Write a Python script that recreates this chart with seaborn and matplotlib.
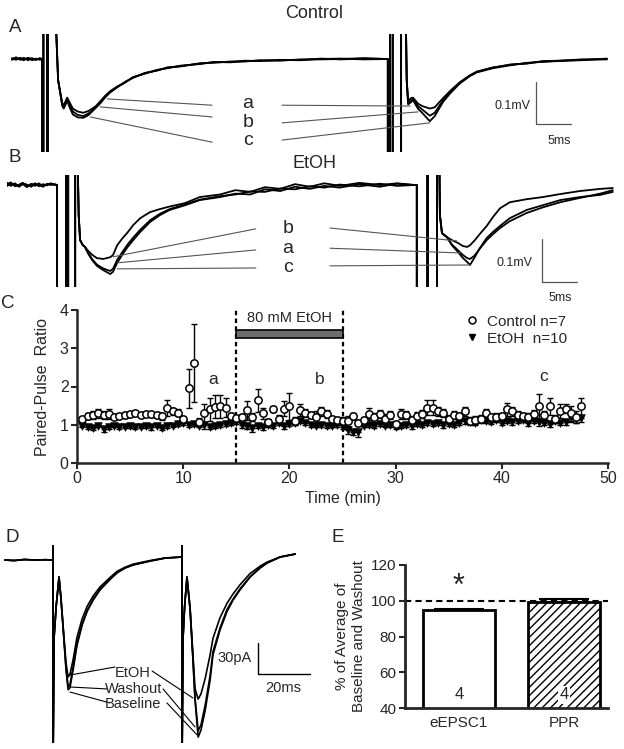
import numpy as np
import pandas as pd
import seaborn as sns
import matplotlib.pyplot as plt
from matplotlib.lines import Line2D

sns.set_style('ticks')
plt.rcParams['font.family'] = ['Liberation Sans', 'DejaVu Sans']
plt.rcParams['hatch.linewidth'] = 1.0

# ---------------- A: field potential traces, control (ms, mV) ----------------
a_time = [0.7, 1.3, 1.9, 2.4, 3.0, 3.6, 4.1, 4.7, 5.0,
          5.0, 5.2, 5.2, 5.7, 5.7, 5.85, 5.85, 6.6,
          7.3, 7.9, 8.1, 8.6, 9.0, 9.4, 10.1, 10.9, 11.6, 12.1, 12.7, 13.3, 14.0, 14.7, 15.7,
          16.9, 18.0, 19.7, 21.4, 22.9, 24.7, 27.6, 29.5, 31.9, 34.0, 36.1, 39.0, 41.9, 44.8, 47.6, 51.0, 54.4,
          54.4, 54.7, 54.7, 55.1, 55.1, 56.3, 56.3, 56.8,
          57.1, 57.3, 57.7, 58.0, 58.7, 59.3, 60.4, 61.1, 62.3, 63.3, 64.7, 66.1, 67.1, 69.4,
          71.9, 74.3, 76.5, 79.0, 82.0, 85.7]
a_ctrl_a = [0, 0.004, -0.002, 0.003, -0.003, 0.002, -0.002, 0.001, 0,
            -0.4, -0.4, 0.4, 0.4, -0.4, -0.4, 0.4, 0.25,
            -0.05, -0.105, -0.110, -0.092, -0.105, -0.118, -0.125, -0.128, -0.124, -0.119, -0.112, -0.101, -0.088, -0.077, -0.066,
            -0.055, -0.044, -0.034, -0.027, -0.021, -0.017, -0.011, -0.008, -0.007, -0.004, -0.005, -0.002, -0.003, 0.001, -0.001, 0.001, 0,
            -0.4, -0.4, 0.4, 0.4, -0.4, -0.4, 0.4, 0.3,
            -0.05, -0.100, -0.093, -0.092, -0.106, -0.112, -0.118, -0.115, -0.093, -0.076, -0.055, -0.039, -0.030, -0.020,
            -0.014, -0.010, -0.006, -0.005, -0.002, -0.001]
a_ctrl_b = [0.002, -0.002, 0.003, -0.001, 0.002, -0.003, 0.001, -0.002, 0,
            -0.4, -0.4, 0.4, 0.4, -0.4, -0.4, 0.4, 0.25,
            -0.05, -0.110, -0.114, -0.095, -0.112, -0.125, -0.133, -0.136, -0.130, -0.124, -0.115, -0.104, -0.090, -0.079, -0.067,
            -0.056, -0.043, -0.035, -0.026, -0.022, -0.016, -0.012, -0.007, -0.008, -0.005, -0.004, -0.003, -0.002, 0.000, 0.001, -0.001, 0,
            -0.4, -0.4, 0.4, 0.4, -0.4, -0.4, 0.4, 0.3,
            -0.05, -0.105, -0.098, -0.095, -0.112, -0.120, -0.135, -0.128, -0.098, -0.079, -0.057, -0.040, -0.031, -0.021,
            -0.013, -0.011, -0.005, -0.004, -0.003, 0.001]
a_ctrl_c = [-0.002, 0.002, 0.000, -0.003, 0.003, 0.000, -0.002, 0.002, 0,
            -0.4, -0.4, 0.4, 0.4, -0.4, -0.4, 0.4, 0.25,
            -0.05, -0.112, -0.118, -0.100, -0.117, -0.132, -0.139, -0.140, -0.134, -0.126, -0.116, -0.106, -0.092, -0.080, -0.068,
            -0.054, -0.045, -0.033, -0.028, -0.020, -0.018, -0.010, -0.009, -0.006, -0.006, -0.003, -0.004, -0.001, -0.001, 0.000, 0.002, 0,
            -0.4, -0.4, 0.4, 0.4, -0.4, -0.4, 0.4, 0.3,
            -0.05, -0.108, -0.103, -0.098, -0.118, -0.128, -0.148, -0.136, -0.102, -0.082, -0.058, -0.041, -0.032, -0.022,
            -0.015, -0.009, -0.007, -0.004, -0.001, 0.000]

# ---------------- B: field potential traces, EtOH (ms, mV) ----------------
b_time = [-2.1, -1.6, -1.0, -0.4, 0.1, 0.7, 1.3, 1.9, 2.4, 3.0, 3.6, 4.1, 4.7, 5.0,
          5.0, 6.3, 6.3, 6.6, 6.6, 7.6, 7.6, 7.9,
          8.1, 8.3, 8.7, 9.0, 9.4, 10.0, 10.7, 11.6, 12.6, 13.0, 13.6, 14.3, 15.1, 15.9, 16.9, 18.3, 19.7, 21.1, 23.3, 25.4,
          28.3, 30.5, 32.6, 34.7, 36.9, 39.0, 41.1, 43.2, 45.4, 48.2, 51.1, 53.6, 56.1,
          56.4, 56.4, 57.9, 57.9, 58.0, 58.0, 59.3, 59.3, 59.6,
          59.7, 60.0, 60.7, 61.4, 62.3, 63.0, 63.6, 64.0, 64.6, 65.4, 66.4, 67.3, 68.3, 69.7, 72.1, 74.4, 76.9, 79.7, 82.6, 84.4]
b_etoh_a = [0.005, -0.002, 0.004, -0.004, 0.002, -0.005, 0.003, -0.002, 0.004, -0.003, 0.002, 0.003, 0.0, 0.0,
            -0.4, -0.4, 0.4, 0.4, -0.4, -0.4, 0.4, 0.1,
            -0.070, -0.128, -0.140, -0.144, -0.156, -0.172, -0.185, -0.194, -0.200, -0.195, -0.174, -0.157, -0.138, -0.122, -0.104, -0.082, -0.067, -0.056, -0.045, -0.034,
            -0.026, -0.022, -0.015, -0.016, -0.008, -0.010, -0.003, -0.006, 0.001, -0.003, 0.003, -0.002, 0.0,
            0.0, -0.4, -0.4, 0.4, 0.4, -0.4, -0.4, 0.4, 0.1,
            -0.070, -0.112, -0.121, -0.138, -0.152, -0.163, -0.170, -0.172, -0.165, -0.148, -0.128, -0.114, -0.100, -0.084, -0.065, -0.052, -0.040, -0.030, -0.020, -0.012]
b_etoh_b = [0.002, 0.006, -0.003, 0.001, 0.005, -0.002, 0.000, 0.004, -0.003, 0.002, -0.001, 0.004, 0.001, 0.0,
            -0.4, -0.4, 0.4, 0.4, -0.4, -0.4, 0.4, 0.1,
            -0.070, -0.128, -0.140, -0.144, -0.152, -0.162, -0.170, -0.172, -0.168, -0.163, -0.140, -0.125, -0.110, -0.093, -0.077, -0.063, -0.056, -0.050, -0.042, -0.028,
            -0.022, -0.012, -0.016, -0.005, -0.009, 0.002, -0.004, 0.004, -0.002, 0.005, 0.0, 0.004, 0.0,
            0.0, -0.4, -0.4, 0.4, 0.4, -0.4, -0.4, 0.4, 0.1,
            -0.070, -0.112, -0.121, -0.128, -0.135, -0.142, -0.144, -0.140, -0.130, -0.114, -0.095, -0.074, -0.054, -0.040, -0.033, -0.028, -0.021, -0.014, -0.009, -0.007]
b_etoh_c = [-0.002, 0.003, 0.000, -0.003, 0.004, 0.001, -0.004, 0.002, 0.000, -0.004, 0.003, 0.000, 0.002, 0.0,
            -0.4, -0.4, 0.4, 0.4, -0.4, -0.4, 0.4, 0.1,
            -0.070, -0.128, -0.140, -0.144, -0.158, -0.174, -0.188, -0.198, -0.207, -0.202, -0.181, -0.163, -0.144, -0.128, -0.109, -0.086, -0.070, -0.058, -0.047, -0.035,
            -0.028, -0.020, -0.022, -0.010, -0.014, -0.004, -0.009, -0.002, -0.006, 0.002, -0.004, 0.003, 0.0,
            0.0, -0.4, -0.4, 0.4, 0.4, -0.4, -0.4, 0.4, 0.1,
            -0.070, -0.112, -0.121, -0.140, -0.156, -0.170, -0.179, -0.186, -0.170, -0.147, -0.123, -0.109, -0.095, -0.077, -0.058, -0.047, -0.035, -0.028, -0.023, -0.016]

# ---------------- C: paired-pulse ratio time course ----------------
ppr_time = [0.5, 1.0, 1.5, 2.0, 2.5, 3.0, 3.5, 4.0, 4.5, 5.0,
            5.5, 6.0, 6.5, 7.0, 7.5, 8.0, 8.5, 9.0, 9.5, 10.0,
            10.5, 11.0, 11.5, 12.0, 12.5, 13.0, 13.5, 14.0, 14.5, 15.0,
            15.5, 16.0, 16.5, 17.0, 17.5, 18.0, 18.5, 19.0, 19.5, 20.0,
            20.5, 21.0, 21.5, 22.0, 22.5, 23.0, 23.5, 24.0, 24.5, 25.0,
            25.5, 26.0, 26.5, 27.0, 27.5, 28.0, 28.5, 29.0, 29.5, 30.0,
            30.5, 31.0, 31.5, 32.0, 32.5, 33.0, 33.5, 34.0, 34.5, 35.0,
            35.5, 36.0, 36.5, 37.0, 37.5, 38.0, 38.5, 39.0, 39.5, 40.0,
            40.5, 41.0, 41.5, 42.0, 42.5, 43.0, 43.5, 44.0, 44.5, 45.0,
            45.5, 46.0, 46.5, 47.0, 47.5]
ctrl_ppr = [1.15, 1.22, 1.25, 1.30, 1.25, 1.28, 1.20, 1.22, 1.25, 1.28,
            1.32, 1.25, 1.28, 1.27, 1.25, 1.22, 1.44, 1.35, 1.32, 1.15,
            1.95, 2.62, 1.07, 1.30, 1.40, 1.47, 1.48, 1.45, 1.22, 1.18,
            1.20, 1.38, 1.20, 1.64, 1.30, 1.08, 1.42, 1.15, 1.42, 1.48,
            1.10, 1.38, 1.30, 1.25, 1.20, 1.35, 1.28, 1.15, 1.12, 1.10,
            1.10, 1.22, 1.05, 1.12, 1.28, 1.20, 1.28, 1.15, 1.25, 1.02,
            1.28, 1.25, 1.12, 1.22, 1.28, 1.45, 1.45, 1.35, 1.30, 1.15,
            1.25, 1.22, 1.35, 1.10, 1.12, 1.15, 1.32, 1.20, 1.20, 1.22,
            1.40, 1.35, 1.25, 1.22, 1.20, 1.28, 1.48, 1.25, 1.48, 1.15,
            1.35, 1.42, 1.30, 1.20, 1.48]
ctrl_sem = [.05, .08, .10, .12, .10, .12, .06, .05, .08, .05,
            .05, .06, .05, .06, .08, .10, .20, .10, .08, .05,
            .50, 1.02, .10, .25, .30, .30, .30, .25, .10, .08,
            .08, .25, .10, .30, .15, .08, .08, .10, .20, .35,
            .10, .15, .10, .08, .15, .12, .10, .08, .08, .10,
            .12, .10, .08, .08, .15, .12, .10, .12, .10, .08,
            .12, .10, .10, .12, .10, .20, .20, .12, .10, .10,
            .10, .10, .12, .10, .10, .10, .10, .08, .10, .10,
            .18, .12, .10, .10, .12, .10, .32, .10, .22, .10,
            .18, .12, .20, .15, .22]
etoh_ppr = [0.97, 0.95, 0.92, 0.98, 0.88, 0.95, 0.97, 0.93, 0.95, 0.97,
            0.93, 0.95, 0.97, 0.95, 0.98, 0.92, 0.96, 0.98, 1.02, 1.05,
            1.00, 1.02, 0.98, 1.00, 0.95, 0.97, 1.00, 1.02, 1.05, 1.08,
            1.00, 0.98, 0.92, 0.97, 0.95, 1.00, 0.98, 1.05, 0.97, 1.02,
            1.05, 1.10, 1.05, 1.00, 0.98, 1.00, 0.97, 0.98, 1.00, 0.95,
            0.85, 0.82, 0.80, 0.98, 1.00, 0.97, 1.02, 0.98, 1.00, 0.95,
            0.97, 1.00, 0.98, 1.02, 1.00, 1.05, 1.02, 1.05, 1.00, 1.02,
            1.00, 1.05, 1.10, 1.08, 1.05, 1.12, 1.10, 1.08, 1.12, 1.05,
            1.10, 1.08, 1.10, 1.12, 1.05, 1.10, 1.08, 1.05, 1.02, 1.10,
            1.05, 1.08, 1.20, 1.15, 1.18]
etoh_sem = [.04, .05, .05, .04, .08, .05, .04, .05, .04, .05,
            .05, .04, .05, .08, .04, .06, .05, .04, .05, .05,
            .05, .05, .04, .12, .06, .05, .05, .05, .06, .05,
            .08, .10, .10, .06, .08, .05, .06, .05, .08, .05,
            .06, .05, .05, .06, .05, .06, .05, .05, .06, .05,
            .08, .10, .12, .05, .06, .05, .06, .05, .06, .05,
            .06, .05, .10, .05, .06, .05, .06, .05, .08, .05,
            .06, .05, .08, .06, .05, .05, .06, .05, .06, .05,
            .06, .08, .05, .06, .08, .06, .10, .06, .08, .05,
            .06, .08, .12, .10, .10]

# ---------------- D: eEPSC traces (ms, pA) ----------------
d_time = [-13.5, -10, -6, -2, 2, 5.0, 5.0, 5.0, 5.4, 6.2, 7.3, 8.1,
          9.2, 10.0, 10.8, 11.5, 12.7, 14.2, 16.2, 18.1, 20.4, 23.1, 26.9, 29.6, 32.7, 35.8, 42.3, 48.1, 54.6,
          54.6, 54.6, 55.0, 55.6, 56.5,
          57.7, 58.8, 59.6, 60.8, 61.9, 63.5, 65.4, 66.5, 69.2, 71.9, 74.2, 76.9, 80.8, 84.6, 87.3, 92.3, 98.1]
d_baseline = [0, -0.5, 0.5, 0, 0.3, 0, 20, -200, -75, -45, -16.5, -39,
              -78, -107, -126, -124, -107, -83, -63, -50, -39, -29, -19, -12.6, -7.8, -4.9, -1, 1.9, 2.9,
              20, -200, -75, -45, -16.5,
              -48.5, -97, -136, -172, -165, -146, -116.5, -92, -68, -50, -39, -29, -16.5, -7.8, -2.9, 2.9, 5.8]
d_washout = [0, -0.5, 0.5, 0, 0.3, 0, 20, -200, -75, -45, -16.5, -39,
             -77, -105, -123, -121, -104, -81, -62, -49, -38, -28, -18, -12, -7.5, -4.5, -1, 1.9, 2.9,
             20, -200, -75, -45, -16.5,
             -48, -96, -134, -166, -160, -141, -112, -89, -66, -48, -38, -28, -16, -7.5, -2.9, 2.9, 5.8]
d_etoh = [0, -0.5, 0.5, 0, 0.3, 0, 20, -200, -75, -45, -16.5, -39,
          -75, -100, -113.6, -111, -97, -75, -57, -45, -35, -26, -17, -11, -7, -4, -0.5, 2, 3,
          20, -200, -75, -45, -16.5,
          -46, -92, -125, -135, -130, -115, -92, -76, -56, -42, -33, -24, -13, -6, -2, 3, 5.8]

# ---------------- E: summary bars ----------------
bar_names = ['eEPSC1', 'PPR']
bar_vals = [95.0, 99.5]
bar_sem = [0.4, 1.6]
bar_n = ['4', '4']

fig = plt.figure(figsize=(6.24, 7.49), dpi=100)
fig.patch.set_facecolor('white')


def frac(x0, y0, x1, y1):
    # pixel box (top-left origin) -> figure fraction
    return [x0 / 624, 1 - y1 / 749, (x1 - x0) / 624, (y1 - y0) / 749]


def trace(ax, t, v, lw=1.3):
    sns.lineplot(x=t, y=v, sort=False, estimator=None, color='black', lw=lw, ax=ax)


def leaders(ax, segs, color='#555555', lw=0.8):
    for (x0, y0), (x1, y1) in segs:
        ax.plot([x0, x1], [y0, y1], color=color, lw=lw)


# ---- A ----
axA = fig.add_axes(frac(7, 34, 617, 152))
for v in (a_ctrl_a, a_ctrl_b, a_ctrl_c):
    trace(axA, a_time, v)
axA.set_xlim(0, 87.14)
axA.set_ylim(-0.2214, 0.0595)
axA.axis('off')
leaders(axA, [((14.3, -0.095), (29.3, -0.110)), ((13.3, -0.114), (29.3, -0.138)),
              ((11.9, -0.138), (29.3, -0.198)), ((39.3, -0.110), (57.6, -0.112)),
              ((39.3, -0.152), (58.7, -0.126)), ((39.3, -0.193), (60.4, -0.152))])
for lab, yv in zip(['a', 'b', 'c'], [-0.105, -0.150, -0.195]):
    axA.text(34.4, yv, lab, ha='center', va='center', fontsize=14)
axA.plot([75.6, 75.6, 80.6], [-0.0548, -0.1548, -0.1548], color='#555555', lw=0.9)
axA.text(74.8, -0.112, '0.1mV', ha='right', va='center', fontsize=9)
axA.text(78.9, -0.195, '5ms', ha='center', va='center', fontsize=9)

# ---- B ----
axB = fig.add_axes(frac(7, 175, 617, 287))
for v in (b_etoh_a, b_etoh_b, b_etoh_c):
    trace(axB, b_time, v)
axB.set_xlim(-2.14, 85.0)
axB.set_ylim(-0.2372, 0.0233)
axB.axis('off')
leaders(axB, [((13.0, -0.167), (33.4, -0.102)), ((13.6, -0.181), (33.4, -0.151)),
              ((13.6, -0.195), (33.4, -0.193)), ((44.0, -0.100), (62.1, -0.130)),
              ((44.0, -0.147), (62.6, -0.158)), ((44.0, -0.188), (64.0, -0.186))])
for lab, yv in zip(['b', 'a', 'c'], [-0.100, -0.147, -0.191]):
    axB.text(38.0, yv, lab, ha='center', va='center', fontsize=14)
axB.plot([74.3, 74.3, 79.3], [-0.1256, -0.2256, -0.2256], color='#555555', lw=0.9)
axB.text(73.0, -0.181, '0.1mV', ha='right', va='center', fontsize=9)
axB.text(76.9, -0.262, '5ms', ha='center', va='center', fontsize=9)

fig.text(314 / 624, 1 - 14 / 749, 'Control', ha='center', va='center', fontsize=13)
fig.text(315 / 624, 1 - 164 / 749, 'EtOH', ha='center', va='center', fontsize=13)

# ---- C ----
axC = fig.add_axes(frac(77, 310, 608, 463))
axC.vlines([15, 25], 0, 4, colors='black', linestyles=(0, (2, 1.5)), lw=1.6, zorder=1)
axC.barh(3.37, 10, left=15, height=0.2, color='#6e6e6e', edgecolor='black', lw=1.2)
axC.errorbar(ppr_time, etoh_ppr, yerr=[etoh_sem, [0] * len(etoh_sem)], fmt='none',
             ecolor='black', elinewidth=1, capsize=2.5, capthick=1, zorder=2)
sns.scatterplot(x=ppr_time, y=etoh_ppr, marker='v', s=30, color='black',
                edgecolor='black', linewidth=0.5, ax=axC, zorder=3)
axC.errorbar(ppr_time, ctrl_ppr, yerr=ctrl_sem, fmt='none',
             ecolor='black', elinewidth=1, capsize=2.5, capthick=1, zorder=4)
sns.scatterplot(x=ppr_time, y=ctrl_ppr, marker='o', s=28, color='white',
                edgecolor='black', linewidth=1.1, ax=axC, zorder=5)
axC.set_xlim(0, 50)
axC.set_ylim(0, 4)
axC.set_xticks([0, 10, 20, 30, 40, 50])
axC.set_yticks([0, 1, 2, 3, 4])
sns.despine(ax=axC)
for s in ('left', 'bottom'):
    axC.spines[s].set_linewidth(1.8)
axC.tick_params(width=1.5, length=4, labelsize=11.5, pad=2)
axC.set_xlabel('Time (min)', fontsize=11.5, labelpad=3)
axC.set_ylabel('Paired-Pulse  Ratio', fontsize=11.5, labelpad=7)
axC.text(20, 3.79, '80 mM EtOH', ha='center', va='center', fontsize=10.5)
for lab, xv, yv in zip(['a', 'b', 'c'], [12.8, 22.9, 43.9], [2.19, 2.17, 2.25]):
    axC.text(xv, yv, lab, ha='center', va='center', fontsize=12.5)
handles = [Line2D([], [], marker='o', ls='none', mfc='white', mec='black', ms=5, mew=1.1,
                  label='Control n=7'),
           Line2D([], [], marker='v', ls='none', color='black', ms=5, label='EtOH  n=10')]
axC.legend(handles=handles, frameon=False, loc='upper left', bbox_to_anchor=(0.727, 0.99),
           fontsize=11, handlelength=0.8, handletextpad=0.6, labelspacing=0.2,
           borderaxespad=0, borderpad=0.2)

# ---- D ----
axD = fig.add_axes(frac(0, 545, 330, 743))
for v in (d_baseline, d_washout, d_etoh):
    trace(axD, d_time, v, lw=1.2)
axD.set_xlim(-15.4, 111.5)
axD.set_ylim(-177.7, 14.6)
axD.axis('off')
leaders(axD, [((11.5, -111.7), (28.8, -103.9)), ((11.5, -123.3), (25.8, -125.2)),
              ((11.5, -128.2), (26.9, -138.8)), ((43.1, -107.8), (58.8, -134.0)),
              ((47.3, -125.2), (59.6, -162.1)), ((48.8, -138.8), (60.4, -169.9))],
        color='black', lw=0.8)
for lab, yv in zip(['EtOH', 'Washout', 'Baseline'], [-109.7, -125.2, -139.8]):
    axD.text(35.8, yv, lab, ha='center', va='center', fontsize=10.5)
axD.plot([83.8, 83.8, 103.8], [-80.6, -110.7, -110.7], color='black', lw=1.0)
axD.text(81.5, -95, '30pA', ha='right', va='center', fontsize=10.5)
axD.text(93.5, -124, '20ms', ha='center', va='center', fontsize=10.5)

# ---- E ----
axE = fig.add_axes(frac(405, 565, 608, 708))
sns.barplot(x=bar_names, y=bar_vals, color='white', edgecolor='black', linewidth=2,
            width=0.68, errorbar=None, ax=axE)
axE.patches[1].set_hatch('////')
axE.errorbar([0, 1], bar_vals, yerr=[[0, 0], bar_sem], fmt='none', ecolor='black',
             elinewidth=1.5, capsize=18, capthick=1.5)
axE.axhline(100, color='black', ls=(0, (3, 2)), lw=1.5)
axE.set_ylim(40, 120)
axE.set_yticks([40, 60, 80, 100, 120])
axE.set_xlim(-0.514, 1.419)
sns.despine(ax=axE)
for s in ('left', 'bottom'):
    axE.spines[s].set_linewidth(2)
axE.tick_params(axis='y', width=1.5, length=4, labelsize=11, pad=2)
axE.tick_params(axis='x', length=0, labelsize=11, pad=6)
axE.set_ylabel('% of Average of\nBaseline and Washout', fontsize=11, labelpad=4)
axE.set_xlabel('')
axE.text(0, 107.7, '*', ha='center', va='center', fontsize=22)
axE.text(0, 47.3, bar_n[0], ha='center', va='center', fontsize=12)
axE.text(1, 47.3, bar_n[1], ha='center', va='center', fontsize=12,
         bbox=dict(facecolor='white', edgecolor='none', pad=1))

# panel letters
for lab, px, py in [('A', 15, 27), ('B', 15, 157), ('C', 8, 304), ('D', 12, 537), ('E', 338, 538)]:
    fig.text(px / 624, 1 - py / 749, lab, ha='center', va='center', fontsize=13.5)

fig.savefig('out.png', dpi=100, facecolor='white')
